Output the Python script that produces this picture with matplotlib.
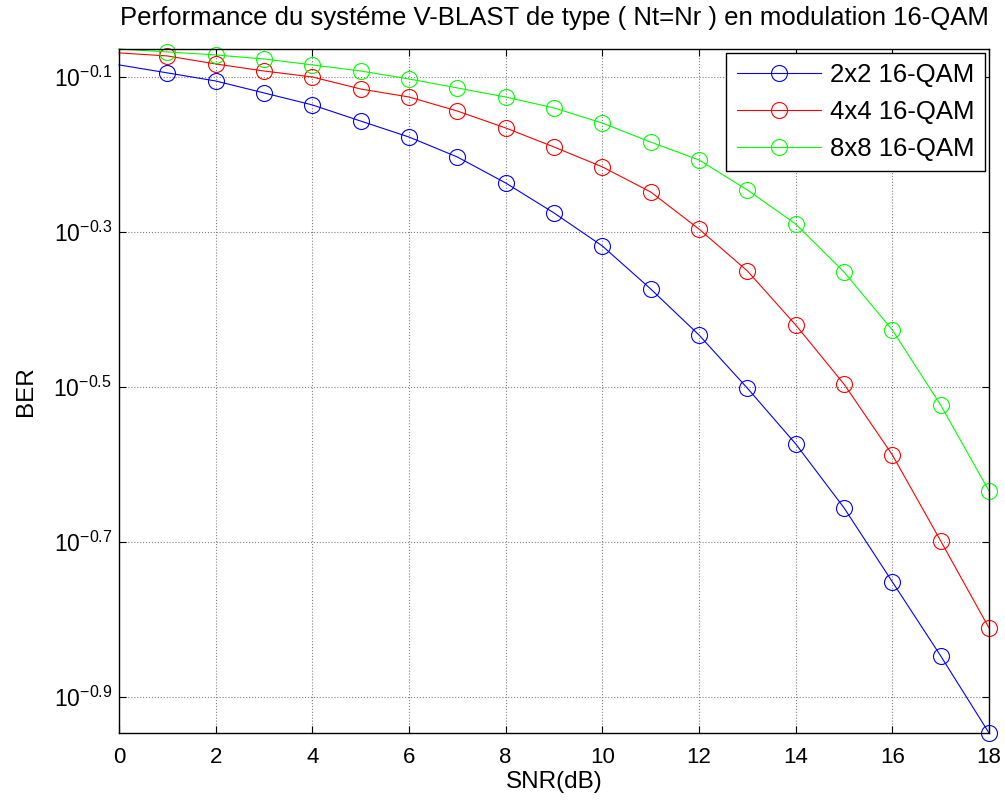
import matplotlib
matplotlib.use("Agg")
import matplotlib.pyplot as plt
import numpy as np
from matplotlib.ticker import FixedLocator, FixedFormatter, NullLocator

plt.rcParams['font.family'] = ['Liberation Sans', 'DejaVu Sans']
plt.rcParams['mathtext.fontset'] = 'custom'
plt.rcParams['mathtext.rm'] = 'Liberation Sans'
plt.rcParams['mathtext.default'] = 'regular'
plt.rcParams['axes.unicode_minus'] = False

# Valeurs
snr = np.arange(0, 19)
ber_2x2 = [0.8233, 0.8040, 0.7849, 0.7575, 0.7310, 0.6968, 0.6645, 0.6262, 0.5797, 0.5303,
           0.4807, 0.4231, 0.3690, 0.3151, 0.2670, 0.2208, 0.1772, 0.1422, 0.1131]
ber_4x4 = [0.8531, 0.8455, 0.8256, 0.8085, 0.7943, 0.7664, 0.7484, 0.7178, 0.6826, 0.6451,
           0.6081, 0.5644, 0.5055, 0.4464, 0.3802, 0.3189, 0.2584, 0.2001, 0.1545]
ber_8x8 = [0.8631, 0.8556, 0.8480, 0.8379, 0.8233, 0.8085, 0.7896, 0.7688, 0.7484, 0.7244,
           0.6926, 0.6546, 0.6207, 0.5678, 0.5132, 0.4450, 0.3745, 0.2996, 0.2322]
labels = ["2x2 16-QAM", "4x4 16-QAM", "8x8 16-QAM"]
colors = ["#0000ff", "#ff0000", "#00ff00"]

ytick_exp = [-0.9, -0.7, -0.5, -0.3, -0.1]
xticks = np.arange(0, 19, 2)

fig = plt.figure(figsize=(10.05, 8.06), dpi=100)
ax = fig.add_axes([0.1184, 0.0906, 0.8657, 0.8486])

for ber, lab, c in zip([ber_2x2, ber_4x4, ber_8x8], labels, colors):
    ax.plot(snr, ber, color=c, lw=0.8, marker='o', markersize=11.5, fillstyle='none',
            markeredgewidth=0.8, markevery=list(range(1, len(snr))), label=lab,
            clip_on=False)

ax.set_yscale('log')
ax.set_xlim(0, 18)
ax.set_ylim(min(ber_2x2), max(ber_8x8))
ax.yaxis.set_major_locator(FixedLocator([10 ** e for e in ytick_exp]))
ax.yaxis.set_major_formatter(FixedFormatter(['$10^{%g}$' % e for e in ytick_exp]))
ax.yaxis.set_minor_locator(NullLocator())
ax.set_xticks(xticks)

ax.tick_params(direction='in', length=5, width=0.8, labelsize=16, top=True, right=True)
ax.tick_params(axis='x', pad=10)
ax.tick_params(axis='y', pad=5, labelsize=16.5)
ax.grid(True, which='major', color='#808080', linestyle=':', linewidth=0.8)
for s in ax.spines.values():
    s.set_linewidth(1.0)

ax.set_xlabel("SNR(dB)", fontsize=17.5, labelpad=2)
ax.set_ylabel("BER", fontsize=17.5, labelpad=12)
ax.set_title("Performance du systéme V-BLAST de type ( Nt=Nr ) en modulation 16-QAM",
             fontsize=18.5, pad=17)

leg = ax.legend(loc='upper right', fontsize=18.5, handlelength=3.3, borderaxespad=0.15,
                fancybox=False, framealpha=1, edgecolor='black', labelspacing=0.5,
                handletextpad=0.35, borderpad=0.4)
leg.get_frame().set_linewidth(1.0)
leg.set_zorder(5)

fig.savefig("out.png", dpi=100)
